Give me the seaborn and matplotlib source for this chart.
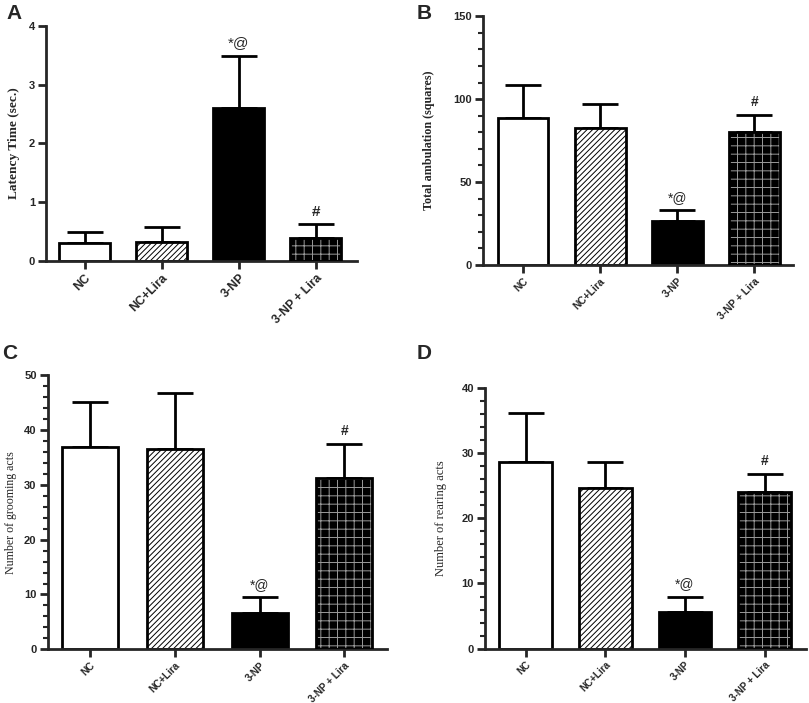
import numpy as np
import matplotlib
matplotlib.use("Agg")
import matplotlib.pyplot as plt
from matplotlib.patches import Rectangle
from matplotlib.ticker import MultipleLocator
import seaborn as sns

# --- DATA ---
groups = ["NC", "NC+Lira", "3-NP", "3-NP + Lira"]

latency_mean = [0.30, 0.32, 2.60, 0.39]
latency_sem = [0.19, 0.26, 0.89, 0.23]

ambulation_mean = [88.7, 82.7, 26.5, 80.0]
ambulation_sem = [20.1, 14.3, 6.5, 10.4]

grooming_mean = [36.8, 36.6, 6.7, 31.2]
grooming_sem = [8.2, 10.1, 2.8, 6.3]

rearing_mean = [28.6, 24.6, 5.7, 24.0]
rearing_sem = [7.6, 4.0, 2.3, 2.8]

marks = ["", "", "*@", "#"]

sns.set_style("ticks")
plt.rcParams["font.family"] = ["Liberation Sans", "DejaVu Sans"]
plt.rcParams["hatch.linewidth"] = 0.7

fig = plt.figure(figsize=(8.09, 7.03), dpi=100)


def draw_panel(rect, means, sems, ylabel, ymax, major, minor, xlim,
               xtick_fs, label_fs, mark_fs, labelpad, ylabel_bold, letter, letter_xy):
    ax = fig.add_axes(rect)
    sns.barplot(x=groups, y=means, hue=groups, palette=["white", "white", "black", "black"],
                saturation=1, edgecolor="black", linewidth=2, width=0.66,
                errorbar=None, legend=False, ax=ax, zorder=2)
    bars = list(ax.patches)
    # NC+Lira: diagonal black hatch
    bars[1].set_hatch("//////")
    # 3-NP + Lira: grey brick pattern on black, outline redrawn on top
    b = bars[3]
    b.set_hatch("++")
    b.set_edgecolor("#9a9a9a")
    b.set_linewidth(0)
    ax.add_patch(Rectangle(b.get_xy(), b.get_width(), b.get_height(), facecolor="none",
                           edgecolor="black", linewidth=2, zorder=3))

    x = np.arange(len(groups))
    ax.errorbar(x, means, yerr=[np.zeros(len(means)), sems], fmt="none", ecolor="black",
                elinewidth=2, capsize=13, capthick=2, zorder=1)
    for xi, m, s, t in zip(x, means, sems, marks):
        if t:
            ax.annotate(t, (xi, m + s), xytext=(0, 4), textcoords="offset points",
                        ha="center", va="bottom", fontsize=mark_fs,
                        fontweight="bold" if t == "#" else "normal")

    ax.set_xlim(*xlim)
    ax.set_ylim(0, ymax)
    ax.yaxis.set_major_locator(MultipleLocator(major))
    if minor:
        ax.yaxis.set_minor_locator(MultipleLocator(minor))
    sns.despine(ax=ax)
    for s in ["left", "bottom"]:
        ax.spines[s].set_linewidth(2)
    ax.tick_params(axis="both", which="major", width=2, length=6, pad=2)
    ax.tick_params(axis="y", which="major", labelsize=8)
    ax.tick_params(axis="y", which="minor", width=1.5, length=3.5)
    ax.set_xticks(x)
    ax.set_xticklabels(groups, rotation=45, ha="right", rotation_mode="anchor",
                       fontweight="bold", fontsize=xtick_fs)
    for lab in ax.get_yticklabels():
        lab.set_fontweight("bold")
    ax.set_xlabel("")
    ax.set_ylabel(ylabel, family=["Liberation Serif", "DejaVu Serif"], fontsize=label_fs,
                  fontweight="bold" if ylabel_bold else "normal", labelpad=labelpad)
    fig.text(letter_xy[0], letter_xy[1], letter, fontsize=15, fontweight="bold",
             ha="left", va="top")
    return ax


draw_panel([0.057, 0.629, 0.384, 0.334], latency_mean, latency_sem,
           "Latency Time (sec.)", 4, 1, None, (-0.5, 3.53),
           8.8, 9.6, 11, 6, True, "A", (0.008, 0.995))
draw_panel([0.597, 0.623, 0.383, 0.354], ambulation_mean, ambulation_sem,
           "Total ambulation (squares)", 150, 50, 10, (-0.52, 3.5),
           7.4, 8.7, 10, 13, True, "B", (0.515, 0.995))
draw_panel([0.059, 0.0763, 0.419, 0.3903], grooming_mean, grooming_sem,
           "Number of grooming acts", 50, 10, 2, (-0.5, 3.5),
           7.2, 8.6, 10, 5, False, "C", (0.003, 0.51))
draw_panel([0.5995, 0.0772, 0.397, 0.3713], rearing_mean, rearing_sem,
           "Number of rearing acts", 40, 10, 2, (-0.51, 3.52),
           7.1, 9.0, 10, 10, False, "D", (0.515, 0.51))

fig.savefig("out.png", dpi=100)
